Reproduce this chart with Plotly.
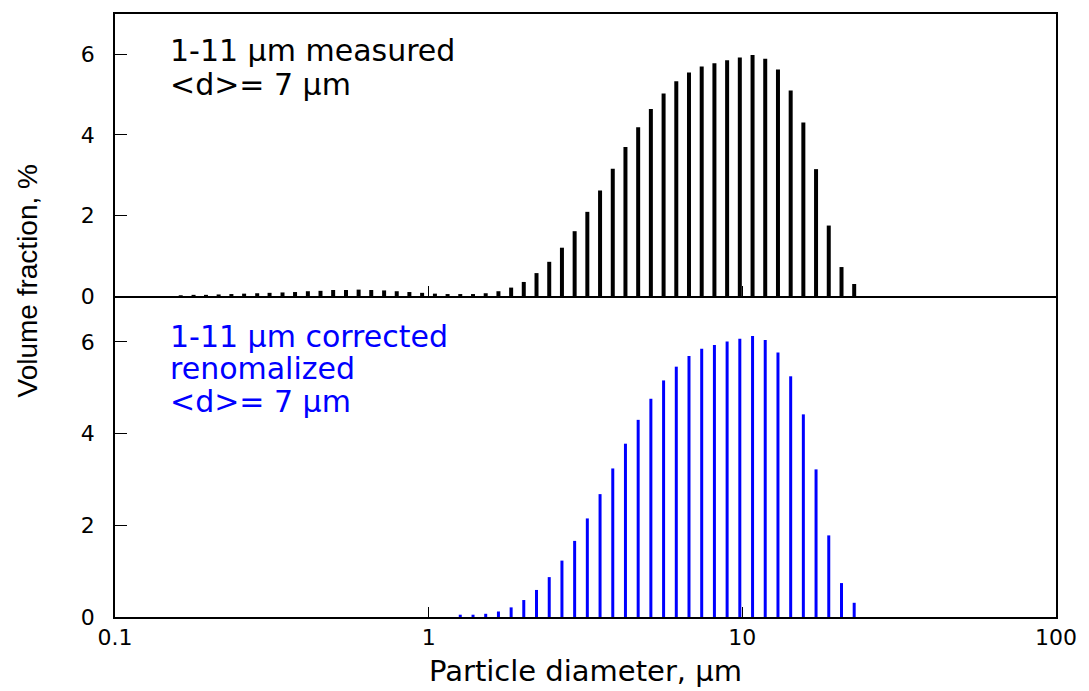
import plotly.graph_objects as go

# Particle diameter bins (µm) and volume fractions (%)
diam_measured = [0.162, 0.178, 0.195, 0.214, 0.235, 0.258, 0.284, 0.311, 0.342, 0.375,
                 0.412, 0.452, 0.496, 0.545, 0.598, 0.656, 0.721, 0.791, 0.868, 0.953,
                 1.047, 1.149, 1.261, 1.385, 1.520, 1.669, 1.832, 2.010, 2.207, 2.423,
                 2.660, 2.920, 3.205, 3.519, 3.863, 4.240, 4.655, 5.110, 5.610, 6.158,
                 6.760, 7.421, 8.147, 8.943, 9.817, 10.78, 11.83, 12.99, 14.26, 15.65,
                 17.18, 18.86, 20.71, 22.73]
vol_measured = [0.02, 0.03, 0.03, 0.04, 0.05, 0.06, 0.07, 0.08, 0.09, 0.10,
                0.12, 0.13, 0.15, 0.15, 0.16, 0.15, 0.14, 0.12, 0.10, 0.08,
                0.06, 0.05, 0.05, 0.05, 0.07, 0.12, 0.21, 0.35, 0.57, 0.85,
                1.20, 1.61, 2.09, 2.62, 3.16, 3.70, 4.19, 4.64, 5.03, 5.33,
                5.55, 5.70, 5.78, 5.85, 5.92, 5.98, 5.89, 5.62, 5.10, 4.31,
                3.15, 1.75, 0.72, 0.30]

diam_corrected = [1.261, 1.385, 1.520, 1.669, 1.832, 2.010, 2.207, 2.423,
                  2.660, 2.920, 3.205, 3.519, 3.863, 4.240, 4.655, 5.110, 5.610, 6.158,
                  6.760, 7.421, 8.147, 8.943, 9.817, 10.78, 11.83, 12.99, 14.26, 15.65,
                  17.18, 18.86, 20.71, 22.73]
vol_corrected = [0.05, 0.05, 0.07, 0.12, 0.21, 0.37, 0.59, 0.87,
                 1.23, 1.66, 2.15, 2.68, 3.24, 3.78, 4.30, 4.76, 5.16, 5.46,
                 5.69, 5.85, 5.93, 6.01, 6.07, 6.13, 6.04, 5.77, 5.25, 4.42,
                 3.22, 1.78, 0.74, 0.31]

x_ticks = [0.1, 1, 10, 100]
x_ticktext = ["0.1", "1", "10", "100"]
y_ticks = [0, 2, 4, 6]

label_top = ["1-11 µm measured", "&lt;d&gt;= 7 µm"]
label_bottom = ["1-11 µm corrected", "renomalized", "&lt;d&gt;= 7 µm"]


def stems(xs, ys):
    px, py = [], []
    for x, y in zip(xs, ys):
        px += [x, x, None]
        py += [0, y, None]
    return px, py


FONT = "Arial, Liberation Sans, sans-serif"
WIDE = "DejaVu Sans, sans-serif"

fig = go.Figure()
sx, sy = stems(diam_measured, vol_measured)
fig.add_trace(go.Scatter(x=sx, y=sy, mode="lines", xaxis="x", yaxis="y",
                         line=dict(color="black", width=4), showlegend=False,
                         hoverinfo="skip"))
sx2, sy2 = stems(diam_corrected, vol_corrected)
fig.add_trace(go.Scatter(x=sx2, y=sy2, mode="lines", xaxis="x2", yaxis="y2",
                         line=dict(color="#0000ff", width=3), showlegend=False,
                         hoverinfo="skip"))

split = 322 / 605

common_x = dict(type="log", range=[-1, 2], tickvals=x_ticks, ticktext=x_ticktext,
                ticks="inside", ticklen=10, tickwidth=1, tickcolor="black",
                showline=True, linecolor="black", linewidth=1.5,
                showgrid=False, zeroline=False,
                tickfont=dict(family=WIDE, size=22, color="black"))
common_y = dict(range=[0, 7], tickvals=y_ticks, ticks="inside", ticklen=12,
                tickwidth=1, tickcolor="black", showline=True, linecolor="black",
                linewidth=1.5, mirror=True, showgrid=False, zeroline=False,
                ticklabelstandoff=14,
                tickfont=dict(family=WIDE, size=22, color="black"))

annotations = []
for txt, ypx in zip(label_top, [49, 83]):
    annotations.append(dict(text=txt, xref="paper", yref="paper",
                            x=53 / 945, y=(617 - ypx) / 605, xanchor="left",
                            yanchor="middle", showarrow=False,
                            font=dict(family=WIDE, size=30, color="black")))
for txt, ypx in zip(label_bottom, [336, 368, 401]):
    annotations.append(dict(text=txt, xref="paper", yref="paper",
                            x=53 / 945, y=(617 - ypx) / 605, xanchor="left",
                            yanchor="middle", showarrow=False,
                            font=dict(family=WIDE, size=30, color="#0000ff")))
annotations += [
    dict(text="Volume fraction, %", xref="paper", yref="paper",
         x=-88 / 945, y=(617 - 280) / 605, xanchor="center", yanchor="middle",
         textangle=-90, showarrow=False,
         font=dict(family=FONT, size=28, color="black")),
    dict(text="Particle diameter, µm", xref="paper", yref="paper",
         x=0.5, y=-73 / 605, xanchor="center", yanchor="bottom",
         showarrow=False,
         font=dict(family=WIDE, size=29, color="black")),
]

fig.update_layout(
    width=1089, height=691,
    margin=dict(l=115, r=29, t=12, b=74),
    paper_bgcolor="white", plot_bgcolor="white",
    xaxis=dict(common_x, domain=[0, 1], anchor="y", showticklabels=False,
               mirror=True),
    yaxis=dict(common_y, domain=[split, 1], anchor="x"),
    xaxis2=dict(common_x, domain=[0, 1], anchor="y2", matches="x",
                mirror=False, ticklabelstandoff=0),
    yaxis2=dict(common_y, domain=[0, split], anchor="x2"),
    annotations=annotations,
)

fig.write_html("out.html")
